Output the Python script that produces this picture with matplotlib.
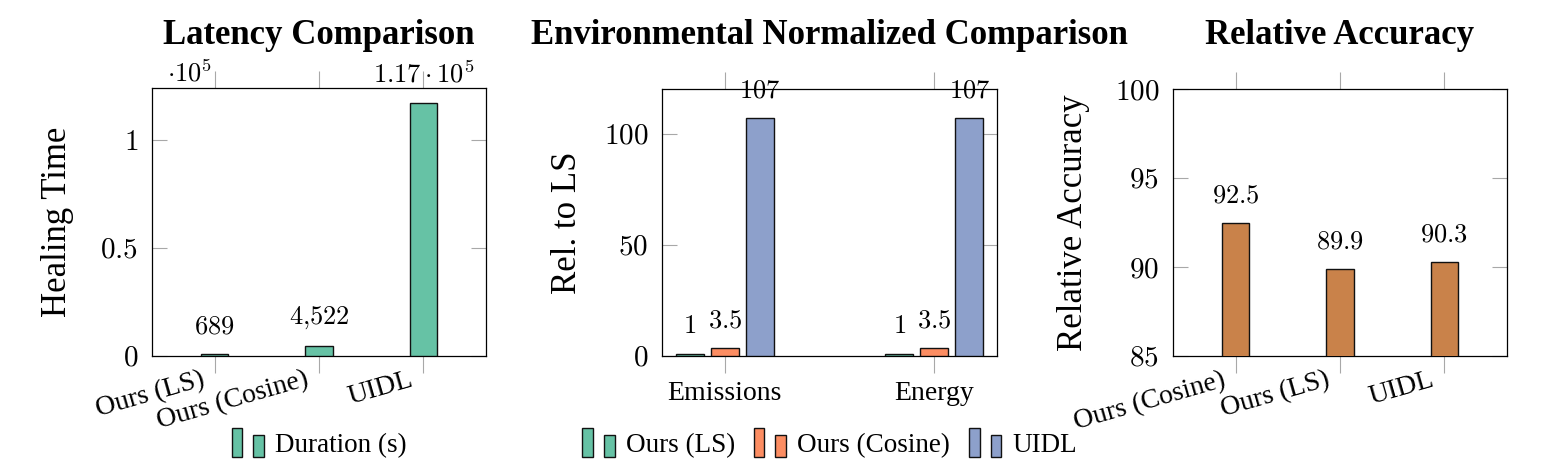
import matplotlib
matplotlib.use("Agg")
import matplotlib.pyplot as plt
from matplotlib.patches import Rectangle, Patch
from matplotlib.legend_handler import HandlerBase
from matplotlib.transforms import ScaledTranslation
import numpy as np

# ---------------- data ----------------
lat_categories = ["Ours (LS)", "Ours (Cosine)", "UIDL"]
lat_values = [689, 4522, 117000]
lat_yticks = [0, 50000, 100000]
lat_yticklabels = ["0", "0.5", "1"]

env_categories = ["Emissions", "Energy"]
env_series = ["Ours (LS)", "Ours (Cosine)", "UIDL"]
env_ls = [1, 1]
env_cosine = [3.5, 3.5]
env_uidl = [107, 107]
env_yticks = [0, 50, 100]

acc_categories = ["Ours (Cosine)", "Ours (LS)", "UIDL"]
acc_values = [92.5, 89.9, 90.3]
acc_yticks = [85, 90, 95, 100]

# ---------------- style ----------------
plt.rcParams["font.family"] = ["Liberation Serif", "DejaVu Serif"]
plt.rcParams["mathtext.fontset"] = "cm"

GREEN = "#66c2a5"
ORANGE = "#fc8d62"
BLUE = "#8da0cb"
BROWN = "#c9824a"
TICKC = "#a8a8a8"
EDGE = "#111111"

TITLE_FS = 25
LABEL_FS = 25
TICK_FS = 21
XTICK_FS = 20
BAR_FS = 19
LEG_FS = 19.5

W, H = 1542, 472
fig = plt.figure(figsize=(W / 100, H / 100), dpi=100)


def ax_at(left, top, right, bottom):
    return fig.add_axes([left / W, 1 - bottom / H, (right - left) / W, (bottom - top) / H])


ax1 = ax_at(152, 88, 486, 355.7)
ax2 = ax_at(662, 89, 997, 356)
ax3 = ax_at(1173, 89, 1507, 356)


def style_axes(ax):
    for s in ax.spines.values():
        s.set_linewidth(0.9)
        s.set_color("black")
    ax.tick_params(axis="x", which="major", direction="out", length=12, width=0.8,
                   color=TICKC, top=True, bottom=True, labelsize=XTICK_FS, pad=6)
    ax.tick_params(axis="y", which="major", direction="in", length=11, width=0.8,
                   color=TICKC, left=True, right=True, labelsize=TICK_FS, pad=10)
    ax.minorticks_off()


def fmt_num(v):
    if v >= 1e5:
        m = v / 1e5
        return r"$%.2f \cdot 10^{5}$" % m
    if v >= 1000:
        s = f"{v:,.0f}".replace(",", "{,}")
        return "$" + s + "$"
    if float(v).is_integer():
        return "$%d$" % v
    return "$%g$" % v


def bar_labels(ax, xs, vals):
    for x, v in zip(xs, vals):
        ax.annotate(fmt_num(v), xy=(x, v), xytext=(0, 11), textcoords="offset points",
                    ha="center", va="bottom", fontsize=BAR_FS, annotation_clip=False)


def shift_xticklabels(ax, dx_px, dy_px=0):
    off = ScaledTranslation(dx_px / 100, dy_px / 100, fig.dpi_scale_trans)
    for lbl in ax.get_xticklabels():
        lbl.set_transform(lbl.get_transform() + off)


# ---------------- panel 1 ----------------
x1 = np.arange(len(lat_categories))
ax1.bar(x1, lat_values, width=0.26, color=GREEN, edgecolor=EDGE, linewidth=1.0, zorder=3)
ax1.set_xlim(-0.6, 2.6)
ax1.set_ylim(0, 124000)
style_axes(ax1)
ax1.set_xticks(x1)
ax1.set_xticklabels(lat_categories, rotation=16, ha="right", va="top", rotation_mode="anchor")
ax1.set_yticks(lat_yticks)
ax1.set_yticklabels(["$" + t + "$" for t in lat_yticklabels])
ax1.set_ylabel("Healing Time", fontsize=LABEL_FS)
ax1.yaxis.set_label_coords(-0.235, 0.5)
bar_labels(ax1, x1, lat_values)
ax1.text(0.045, 1.026, r"$\cdot 10^{5}$", transform=ax1.transAxes, ha="left", va="baseline",
         fontsize=BAR_FS)

# ---------------- panel 2 ----------------
x2 = np.arange(len(env_categories))
bw = 0.133
step = 0.1675
for i, (vals, col) in enumerate(zip([env_ls, env_cosine, env_uidl], [GREEN, ORANGE, BLUE])):
    xs = x2 + (i - 1) * step
    ax2.bar(xs, vals, width=bw, color=col, edgecolor=EDGE, linewidth=1.0, zorder=3)
    bar_labels(ax2, xs, vals)
ax2.set_xlim(-0.3, 1.3)
ax2.set_ylim(0, 120)
style_axes(ax2)
ax2.set_xticks(x2)
ax2.set_xticklabels(env_categories, fontsize=XTICK_FS)
ax2.set_yticks(env_yticks)
ax2.set_yticklabels(["$%d$" % t for t in env_yticks])
ax2.set_ylabel("Rel. to LS", fontsize=LABEL_FS)
ax2.yaxis.set_label_coords(-0.233, 0.5)

# ---------------- panel 3 ----------------
x3 = np.arange(len(acc_categories))
ax3.bar(x3, acc_values, width=0.26, color=BROWN, edgecolor=EDGE, linewidth=1.0, zorder=3)
ax3.set_xlim(-0.6, 2.6)
ax3.set_ylim(85, 100)
style_axes(ax3)
ax3.set_xticks(x3)
ax3.set_xticklabels(acc_categories, rotation=16, ha="right", va="top", rotation_mode="anchor")
ax3.set_yticks(acc_yticks)
ax3.set_yticklabels(["$%d$" % t for t in acc_yticks])
ax3.set_ylabel("Relative Accuracy", fontsize=LABEL_FS)
ax3.yaxis.set_label_coords(-0.248, 0.5)
bar_labels(ax3, x3, acc_values)

for ax in (ax1, ax3):
    ax.tick_params(axis="x", pad=2)
    shift_xticklabels(ax, -14, 8)

# ---------------- titles ----------------
titles = ["Latency Comparison", "Environmental Normalized Comparison", "Relative Accuracy"]
for ax, t in zip((ax1, ax2, ax3), titles):
    bb = ax.get_position()
    fig.text((bb.x0 + bb.x1) / 2, 1 - 44 / H, t, ha="center", va="baseline",
             fontsize=TITLE_FS, fontweight="bold")


# ---------------- legends ----------------
class TwoBarHandler(HandlerBase):
    def create_artists(self, legend, orig_handle, xdescent, ydescent, width, height,
                       fontsize, trans):
        fc = orig_handle.get_facecolor()
        w = width * 0.33
        x0 = -xdescent
        y0 = -ydescent
        r1 = Rectangle((x0, y0), w, height, facecolor=fc, edgecolor=EDGE, linewidth=1.0,
                       transform=trans)
        r2 = Rectangle((x0 + width - w, y0), w, height * 0.78, facecolor=fc, edgecolor=EDGE,
                       linewidth=1.0, transform=trans)
        return [r1, r2]


def add_legend(ax, labels, colors):
    handles = [Patch(facecolor=c) for c in colors]
    bb = ax.get_position()
    fig.legend(handles, labels, loc="center", bbox_to_anchor=((bb.x0 + bb.x1) / 2, 1 - 443 / H),
               bbox_transform=fig.transFigure, ncol=len(labels), frameon=False,
               fontsize=LEG_FS, handlelength=1.2, handleheight=1.25, handletextpad=0.4,
               columnspacing=0.7, handler_map={Patch: TwoBarHandler()})


add_legend(ax1, ["Duration (s)"], [GREEN])
add_legend(ax2, env_series, [GREEN, ORANGE, BLUE])

fig.savefig("out.png", dpi=100)
